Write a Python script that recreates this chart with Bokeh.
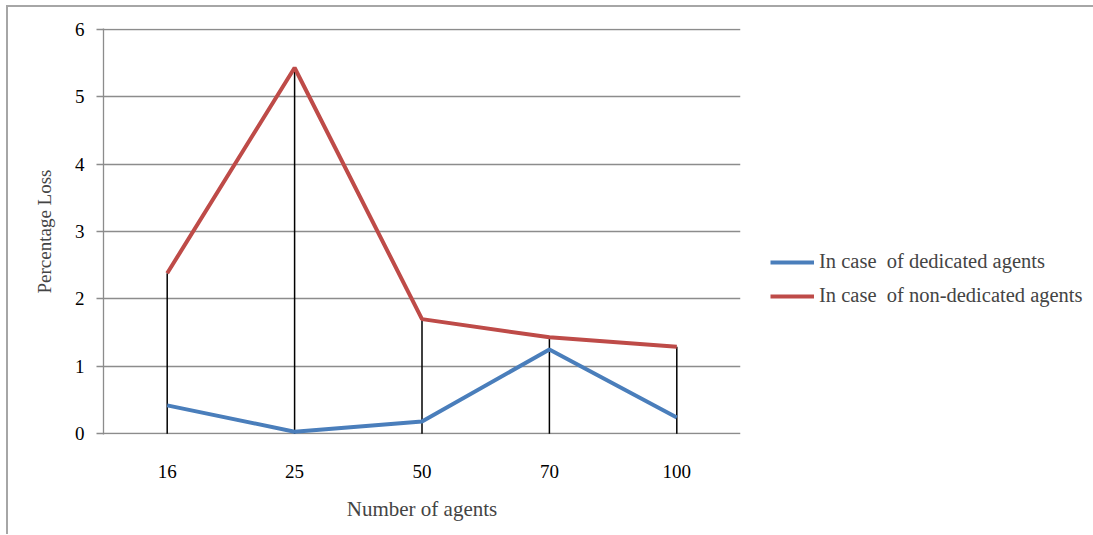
from bokeh.plotting import figure
from bokeh.models import Legend, LegendItem, FixedTicker, Range1d, FactorRange
from bokeh.embed import file_html
from bokeh.resources import INLINE

agents = ["16", "25", "50", "70", "100"]
dedicated = [0.42, 0.03, 0.18, 1.25, 0.24]
non_dedicated = [2.38, 5.43, 1.70, 1.43, 1.29]
y_ticks = [0, 1, 2, 3, 4, 5, 6]

FONT = "Liberation Serif"
BLUE = "#4a7ebb"
RED = "#be4b48"

p = figure(x_range=FactorRange(*agents, range_padding=0), y_range=Range1d(-0.012, 6.012),
           frame_width=637, frame_height=406,
           min_border_left=95, min_border_top=21, min_border_right=350, min_border_bottom=100,
           output_backend="svg", toolbar_location=None,
           styles={"margin-left": "6px", "margin-top": "5px",
                   "border-left": "2px solid #a6a6a6", "border-top": "2px solid #a6a6a6"})
p.outline_line_color = None
p.background_fill_color = "white"

# grid
p.xgrid.grid_line_color = None
p.ygrid.grid_line_color = "#8c8c8c"
p.ygrid.grid_line_width = 1.3
p.yaxis.ticker = FixedTicker(ticks=y_ticks)

# y axis
p.yaxis.axis_line_color = "#8c8c8c"
p.yaxis.axis_line_width = 1.3
p.yaxis.major_tick_line_color = "#8c8c8c"
p.yaxis.major_tick_line_width = 1.3
p.yaxis.major_tick_out = 7
p.yaxis.major_tick_in = 0
p.yaxis.minor_tick_line_color = None
p.yaxis.major_label_standoff = 12
p.yaxis.major_label_text_font = FONT
p.yaxis.major_label_text_font_size = "19px"
p.yaxis.major_label_text_color = "black"
p.yaxis.axis_label = "Percentage Loss"
p.yaxis.axis_label_text_font = FONT
p.yaxis.axis_label_text_font_style = "normal"
p.yaxis.axis_label_text_font_size = "19px"
p.yaxis.axis_label_standoff = 17

# x axis
p.xaxis.axis_line_color = None
p.xaxis.major_tick_line_color = None
p.xaxis.minor_tick_line_color = None
p.xaxis.major_label_standoff = 24
p.xaxis.major_label_text_font = FONT
p.xaxis.major_label_text_font_size = "19px"
p.xaxis.major_label_text_color = "black"
p.xaxis.axis_label = "Number of agents"
p.xaxis.axis_label_text_font = FONT
p.xaxis.axis_label_text_font_style = "normal"
p.xaxis.axis_label_text_font_size = "21px"
p.xaxis.axis_label_standoff = 16

# drop lines
tops = [max(a, b) for a, b in zip(dedicated, non_dedicated)]
p.segment(x0=agents, y0=[0] * len(agents), x1=agents, y1=tops, line_color="black", line_width=1.5)

r1 = p.line(agents, dedicated, line_color=BLUE, line_width=4)
r2 = p.line(agents, non_dedicated, line_color=RED, line_width=4)

legend = Legend(items=[LegendItem(label="In case  of dedicated agents", renderers=[r1]),
                       LegendItem(label="In case  of non-dedicated agents", renderers=[r2])],
                location=(30, 127), orientation="vertical",
                label_text_font=FONT, label_text_font_size="20.5px",
                glyph_width=44, glyph_height=20, label_standoff=5, spacing=11,
                border_line_color=None, background_fill_alpha=0, padding=4, margin=0)
p.add_layout(legend, "right")

open("out.html", "w").write(file_html(p, INLINE))
